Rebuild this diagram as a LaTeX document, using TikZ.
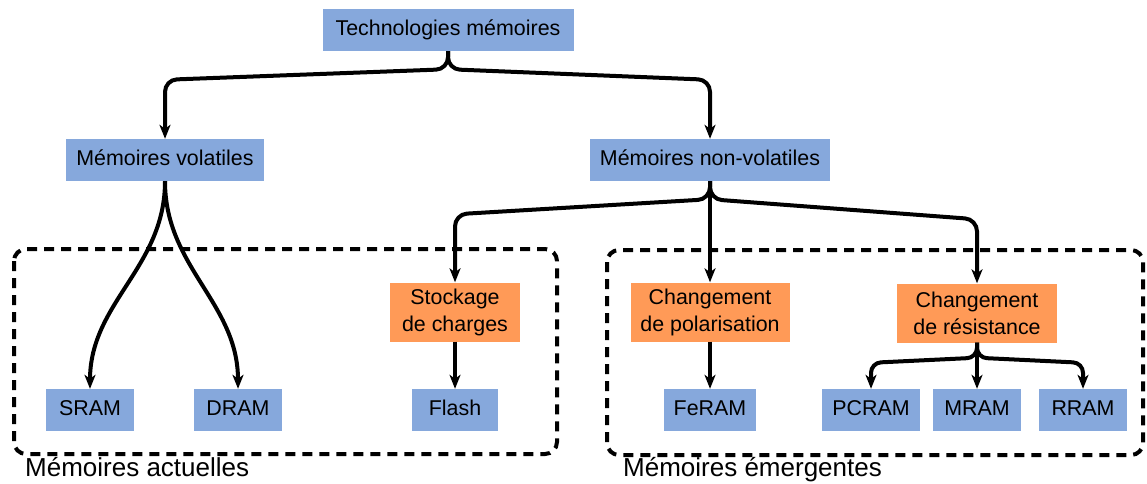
\documentclass[tikz,border=0pt]{standalone}
\usepackage{fontspec}
\setmainfont{Liberation Sans}
\usetikzlibrary{arrows.meta,calc}
\definecolor{BoxBlue}{HTML}{86A8DC}
\definecolor{BoxOrange}{HTML}{FF9A57}

\begin{document}
\begin{tikzpicture}[x=1pt,y=-1pt,
    mem/.style={fill=BoxBlue,inner xsep=10pt,minimum height=42pt,
      text height=15.5pt,text depth=4.5pt,font=\fontsize{21.4}{25}\selectfont},
    leaf/.style={mem,minimum width=88pt},
    phys/.style={fill=BoxOrange,minimum height=59pt,align=center,inner xsep=5pt,
      font=\fontsize{21.4}{27}\selectfont},
    link/.style={line width=4pt,-{Stealth[length=14pt,width=11pt,inset=4pt]}},
    group/.style={line width=4pt,dash pattern=on 10pt off 7pt,rounded corners=12pt},
    grouplabel/.style={anchor=base west,inner sep=0pt,font=\fontsize{26}{30}\selectfont}]
    \useasboundingbox (0,0) rectangle (1147,483);

    % groups
    \draw[group] (14,249) rectangle (557,454);
    \draw[group] (607,250) rectangle (1143,455);
    \node[grouplabel] (cur) at (25,476) {Mémoires actuelles};
    \node[grouplabel] (emg) at (623,476) {Mémoires émergentes};

    % tree
    \node[mem,minimum width=251pt] (tech) at (448,30) {Technologies mémoires};
    \node[mem] (vol) at (165,160) {Mémoires volatiles};
    \node[mem] (nvol) at (710,160) {Mémoires non-volatiles};

    \node[phys,minimum width=130pt] (stock) at (455,312) {Stockage\\de charges};
    \node[phys,minimum width=159pt] (pol) at (710,312) {Changement\\de polarisation};
    \node[phys,minimum width=160pt] (res) at (977,313) {Changement\\de résistance};

    \node[leaf] (sram) at (90,410) {SRAM};
    \node[leaf] (dram) at (238,410) {DRAM};
    \node[leaf,minimum width=86pt] (flash) at (455,410) {Flash};
    \node[leaf,minimum width=84pt] (feram) at (710,410) {FeRAM};
    \node[leaf] (pcram) at (871,410) {PCRAM};
    \node[leaf] (mram) at (977,410) {MRAM};
    \node[leaf] (rram) at (1083,410) {RRAM};

    % links
    \draw[link,rounded corners=12pt] (tech.south) -- ++(0,18) -- ($(vol.north)+(0,-59)$) -- (vol.north);
    \draw[link,rounded corners=12pt] (tech.south) -- ++(0,18) -- ($(nvol.north)+(0,-59)$) -- (nvol.north);

    \draw[link] (vol.south) to[out=-90,in=90] (sram.north);
    \draw[link] (vol.south) to[out=-90,in=90] (dram.north);

    \draw[link,rounded corners=12pt] (nvol.south) -- ++(0,18) -- ($(stock.north)+(0,-68)$) -- (stock.north);
    \draw[link] (nvol.south) -- (pol.north);
    \draw[link,rounded corners=12pt] (nvol.south) -- ++(0,18) -- ($(res.north)+(0,-64)$) -- (res.north);

    \draw[link] (stock) -- (flash);
    \draw[link] (pol) -- (feram);

    \draw[link,rounded corners=10pt] (res.south) -- ++(0,15) -- ($(pcram.north)+(0,-26)$) -- (pcram.north);
    \draw[link] (res.south) -- (mram.north);
    \draw[link,rounded corners=10pt] (res.south) -- ++(0,15) -- ($(rram.north)+(0,-26)$) -- (rram.north);
\end{tikzpicture}
\end{document}
